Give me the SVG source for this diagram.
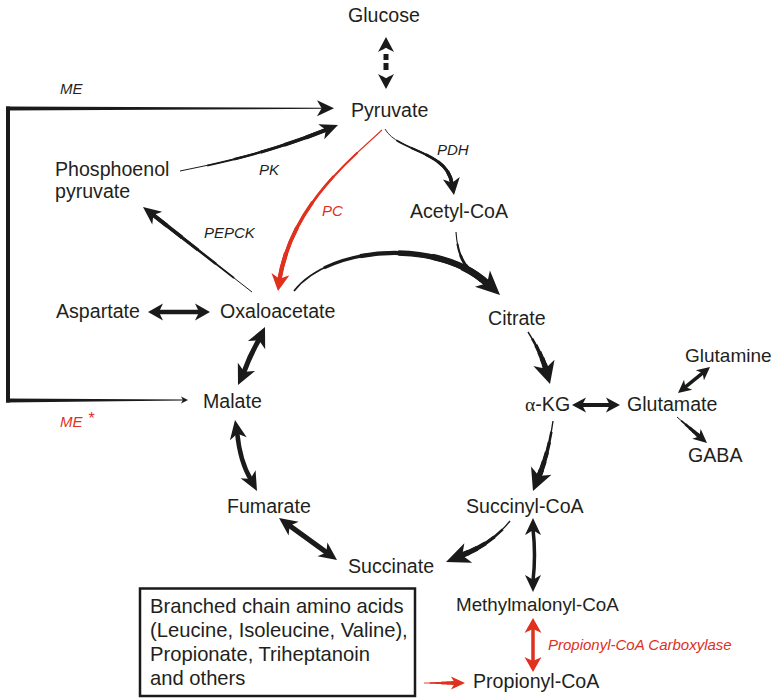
<svg xmlns="http://www.w3.org/2000/svg" width="776" height="698" viewBox="0 0 776 698">
<style>
text { font-family: "Liberation Sans", Arial, Helvetica, sans-serif; fill: #231f20; }
.n { font-size: 19.6px; }
.bx { font-size: 20.2px; }
.e { font-size: 15px; font-style: italic; }
.red { fill: #e0301e; }
.hd { fill: #1a1a1a; }
.hr { fill: #e0301e; }
.sh { fill: none; stroke: #1a1a1a; }
.shr { fill: none; stroke: #e0301e; }
.tp { fill: none; stroke: #1a1a1a; }
.tpr { fill: none; stroke: #e0301e; }
.k1 { stroke-width: calc(var(--w) * 0.25); }
.k2 { stroke-width: calc(var(--w) * 0.45); stroke-dasharray: 0 18 82 0; }
.k3 { stroke-width: calc(var(--w) * 0.62); stroke-dasharray: 0 36 64 0; }
.k4 { stroke-width: calc(var(--w) * 0.78); stroke-dasharray: 0 54 46 0; }
.k5 { stroke-width: calc(var(--w) * 0.9); stroke-dasharray: 0 70 30 0; }
.k6 { stroke-width: var(--w); stroke-dasharray: 0 85 15 0; }
.box { fill: none; stroke: #1a1a1a; stroke-width: 2.5; }
</style>
<defs>
<path id="hd" d="M0,0 L-1,-0.5 Q-0.8,-0.12 -0.72,0 Q-0.8,0.12 -1,0.5 Z"/>
<path id="pPK" pathLength="100" d="M180,171 Q261,156 327.2,129.4"/>
<path id="pPC" pathLength="100" d="M382,130 C350,160 292,205 279.35,280"/>
<path id="pPDH" pathLength="100" d="M385,129 C398,152 447,150 452.1,184.1"/>
<path id="pPEP" pathLength="100" d="M252,292 L152.2,214.2"/>
<path id="pOC" pathLength="100" d="M294,291 C330,245 440,238 488.4,284.6"/>
<path id="pAC" pathLength="100" d="M456,232 C458,262 468,272 488.4,284.6"/>
<path id="pSS" pathLength="100" d="M510,521 Q492,544 460.4,555.9"/>
<path id="pCK" pathLength="100" d="M528,332 Q540,350 546.3,370.2"/>
<path id="pKS" pathLength="100" d="M553,421 Q549,452 538.4,477.7"/>
<path id="pGG" pathLength="100" d="M677,417 L700.1,437"/>
<path id="pBP" pathLength="100" d="M424,683 L456,683"/>
</defs>

<g id="connectors">
  <g id="c-glc-pyr">
    <rect x="383.5" y="54" width="5" height="6" class="hd"/>
    <rect x="383.5" y="63" width="5" height="7" class="hd"/>
    <use href="#hd" class="hd" transform="translate(386,37) rotate(-90) scale(15,16)"/>
    <use href="#hd" class="hd" transform="translate(386,89) rotate(90) scale(15,16)"/>
  </g>
  <g id="c-me">
    <rect x="6" y="106.5" width="4" height="296" class="hd"/>
    <polygon class="hd" points="6,106.5 324,107.8 324,108.8 6,110.5"/>
    <polygon class="hd" points="6,398.5 184,399.6 184,400.4 6,402.5"/>
    <use href="#hd" class="hd" transform="translate(334,108.3) scale(17,16)"/>
    <use href="#hd" class="hd" transform="translate(188,400) scale(7,7)"/>
  </g>
  <g id="c-pk" class="tp" style="--w:4px">
    <use href="#pPK" class="k1"/><use href="#pPK" class="k2"/><use href="#pPK" class="k3"/><use href="#pPK" class="k4"/><use href="#pPK" class="k5"/><use href="#pPK" class="k6"/>
    <use href="#hd" class="hd" style="stroke:none" transform="translate(338,125) rotate(-22) scale(18,16)"/>
  </g>
  <g id="c-pc" class="tpr" style="--w:4.3px">
    <use href="#pPC" class="k1"/><use href="#pPC" class="k2"/><use href="#pPC" class="k3"/><use href="#pPC" class="k4"/><use href="#pPC" class="k5"/><use href="#pPC" class="k6"/>
    <use href="#hd" class="hr" style="stroke:none" transform="translate(278,291) rotate(98) scale(17,18)"/>
  </g>
  <g id="c-pdh" class="tp" style="--w:3.6px">
    <use href="#pPDH" class="k1"/><use href="#pPDH" class="k2"/><use href="#pPDH" class="k3"/><use href="#pPDH" class="k4"/><use href="#pPDH" class="k5"/><use href="#pPDH" class="k6"/>
    <use href="#hd" class="hd" style="stroke:none" transform="translate(454,195) rotate(81) scale(17,17)"/>
  </g>
  <g id="c-pepck" class="tp" style="--w:4px">
    <use href="#pPEP" class="k1"/><use href="#pPEP" class="k2"/><use href="#pPEP" class="k3"/><use href="#pPEP" class="k4"/><use href="#pPEP" class="k5"/><use href="#pPEP" class="k6"/>
    <use href="#hd" class="hd" style="stroke:none" transform="translate(143,207) rotate(-142) scale(18,16)"/>
  </g>
  <g id="c-cs" class="tp" style="--w:7px">
    <use href="#pOC" class="k1"/><use href="#pOC" class="k2"/><use href="#pOC" class="k3"/><use href="#pOC" class="k4"/><use href="#pOC" class="k5"/><use href="#pOC" class="k6"/>
  </g>
  <g id="c-ac" class="tp" style="--w:4.5px">
    <use href="#pAC" class="k1"/><use href="#pAC" class="k2"/><use href="#pAC" class="k3"/><use href="#pAC" class="k4"/><use href="#pAC" class="k5"/><use href="#pAC" class="k6"/>
    <use href="#hd" class="hd" style="stroke:none" transform="translate(500,295) rotate(43) scale(24,22)"/>
  </g>
  <g id="c-asp">
    <path class="sh" stroke-width="4.5" d="M157,312 L201,312"/>
    <use href="#hd" class="hd" transform="translate(148,312) rotate(180) scale(15,17)"/>
    <use href="#hd" class="hd" transform="translate(210,312) scale(15,17)"/>
  </g>
  <g id="c-om">
    <path class="sh" stroke-width="5" d="M259.5,338.8 Q250,355 243.5,373.2"/>
    <use href="#hd" class="hd" transform="translate(265,327) rotate(-65) scale(20,19)"/>
    <use href="#hd" class="hd" transform="translate(238,385) rotate(115) scale(20,19)"/>
  </g>
  <g id="c-mf">
    <path class="sh" stroke-width="4.5" d="M237.1,432.2 Q240,462 251.2,480.1"/>
    <use href="#hd" class="hd" transform="translate(235,420) rotate(-100) scale(19,17)"/>
    <use href="#hd" class="hd" transform="translate(257,491) rotate(62) scale(19,17)"/>
  </g>
  <g id="c-fs">
    <path class="sh" stroke-width="5" d="M288.5,524.9 L327.5,553.1"/>
    <use href="#hd" class="hd" transform="translate(279,518) rotate(-144.1) scale(18,17)"/>
    <use href="#hd" class="hd" transform="translate(337,560) rotate(35.9) scale(18,17)"/>
  </g>
  <g id="c-ss" class="tp" style="--w:5.5px">
    <use href="#pSS" class="k1"/><use href="#pSS" class="k2"/><use href="#pSS" class="k3"/><use href="#pSS" class="k4"/><use href="#pSS" class="k5"/><use href="#pSS" class="k6"/>
    <use href="#hd" class="hd" style="stroke:none" transform="translate(446,562) rotate(158) scale(24,21)"/>
  </g>
  <g id="c-ck" class="tp" style="--w:5.5px">
    <use href="#pCK" class="k1"/><use href="#pCK" class="k2"/><use href="#pCK" class="k3"/><use href="#pCK" class="k4"/><use href="#pCK" class="k5"/><use href="#pCK" class="k6"/>
    <use href="#hd" class="hd" style="stroke:none" transform="translate(550,384) rotate(74) scale(22,22)"/>
  </g>
  <g id="c-ks" class="tp" style="--w:5.5px">
    <use href="#pKS" class="k1"/><use href="#pKS" class="k2"/><use href="#pKS" class="k3"/><use href="#pKS" class="k4"/><use href="#pKS" class="k5"/><use href="#pKS" class="k6"/>
    <use href="#hd" class="hd" style="stroke:none" transform="translate(533,491) rotate(112) scale(22,22)"/>
  </g>
  <g id="c-kg">
    <path class="sh" stroke-width="4" d="M581,405 L611,405"/>
    <use href="#hd" class="hd" transform="translate(572,405) rotate(180) scale(14,15)"/>
    <use href="#hd" class="hd" transform="translate(620,405) scale(14,15)"/>
  </g>
  <g id="c-gq">
    <path class="sh" stroke-width="3.5" d="M684.6,387.7 L703.4,372.3"/>
    <use href="#hd" class="hd" transform="translate(678,393) rotate(141) scale(13,13)"/>
    <use href="#hd" class="hd" transform="translate(710,367) rotate(-39) scale(13,13)"/>
  </g>
  <g id="c-gaba" class="tp" style="--w:4px">
    <use href="#pGG" class="k1"/><use href="#pGG" class="k2"/><use href="#pGG" class="k3"/><use href="#pGG" class="k4"/><use href="#pGG" class="k5"/><use href="#pGG" class="k6"/>
    <use href="#hd" class="hd" style="stroke:none" transform="translate(707,443) rotate(41) scale(14,13)"/>
  </g>
  <g id="c-sm">
    <path class="sh" stroke-width="3.5" d="M533,529 Q536,555 533,581"/>
    <use href="#hd" class="hd" transform="translate(533,518) rotate(-90) scale(17,16)"/>
    <use href="#hd" class="hd" transform="translate(533,592) rotate(90) scale(17,16)"/>
  </g>
  <g id="c-mp">
    <path class="shr" stroke-width="3.5" d="M533,627.5 L533,662.5"/>
    <use href="#hd" class="hr" transform="translate(533,618) rotate(-90) scale(15,17)"/>
    <use href="#hd" class="hr" transform="translate(533,672) rotate(90) scale(15,17)"/>
  </g>
  <g id="c-bp" class="tpr" style="--w:3.6px">
    <use href="#pBP" class="k1"/><use href="#pBP" class="k2"/><use href="#pBP" class="k3"/><use href="#pBP" class="k4"/><use href="#pBP" class="k5"/><use href="#pBP" class="k6"/>
    <use href="#hd" class="hr" style="stroke:none" transform="translate(465,683) scale(14,13)"/>
  </g>
</g>

<g id="labels">
  <text class="e" x="60" y="94">ME</text>
  <text class="e" x="259" y="175">PK</text>
  <text class="e" x="437" y="155">PDH</text>
  <text class="e red" x="322" y="216">PC</text>
  <text class="e" x="204" y="238">PEPCK</text>
  <text class="e red" x="60" y="427">ME</text>
  <text class="red" x="88.5" y="424" style="font-size:16px">*</text>
  <text class="e red" x="548" y="650">Propionyl-CoA Carboxylase</text>
</g>

<g id="glucose"><text class="n" x="348" y="22">Glucose</text></g>
<g id="pyruvate"><text class="n" x="351" y="117">Pyruvate</text></g>
<g id="pep"><text class="n" x="55" y="176">Phosphoenol</text><text class="n" x="55" y="198">pyruvate</text></g>
<g id="acetylcoa"><text class="n" x="410" y="218">Acetyl-CoA</text></g>
<g id="aspartate"><text class="n" x="56" y="318">Aspartate</text></g>
<g id="oxaloacetate"><text class="n" x="220" y="318">Oxaloacetate</text></g>
<g id="citrate"><text class="n" x="488" y="325">Citrate</text></g>
<g id="malate"><text class="n" x="203" y="408">Malate</text></g>
<g id="akg"><text class="n" x="525" y="411"><tspan style="font-family:'Liberation Serif',serif">α</tspan>-KG</text></g>
<g id="glutamate"><text class="n" x="627" y="411">Glutamate</text></g>
<g id="glutamine"><text class="n" x="685" y="362" style="font-size:19px">Glutamine</text></g>
<g id="gaba"><text class="n" x="688" y="462">GABA</text></g>
<g id="fumarate"><text class="n" x="227" y="513">Fumarate</text></g>
<g id="succinylcoa"><text class="n" x="466" y="513">Succinyl-CoA</text></g>
<g id="succinate"><text class="n" x="348" y="573">Succinate</text></g>
<g id="methylmalonylcoa"><text class="n" x="456" y="611" style="font-size:18.8px">Methylmalonyl-CoA</text></g>
<g id="propionylcoa"><text class="n" x="473" y="688">Propionyl-CoA</text></g>
<g id="sources">
  <rect class="box" x="140" y="588.5" width="275" height="107.5"/>
  <text class="bx" x="150" y="613">Branched chain amino acids</text>
  <text class="bx" x="150" y="637">(Leucine, Isoleucine, Valine),</text>
  <text class="bx" x="150" y="661">Propionate, Triheptanoin</text>
  <text class="bx" x="150" y="685">and others</text>
</g>
</svg>
